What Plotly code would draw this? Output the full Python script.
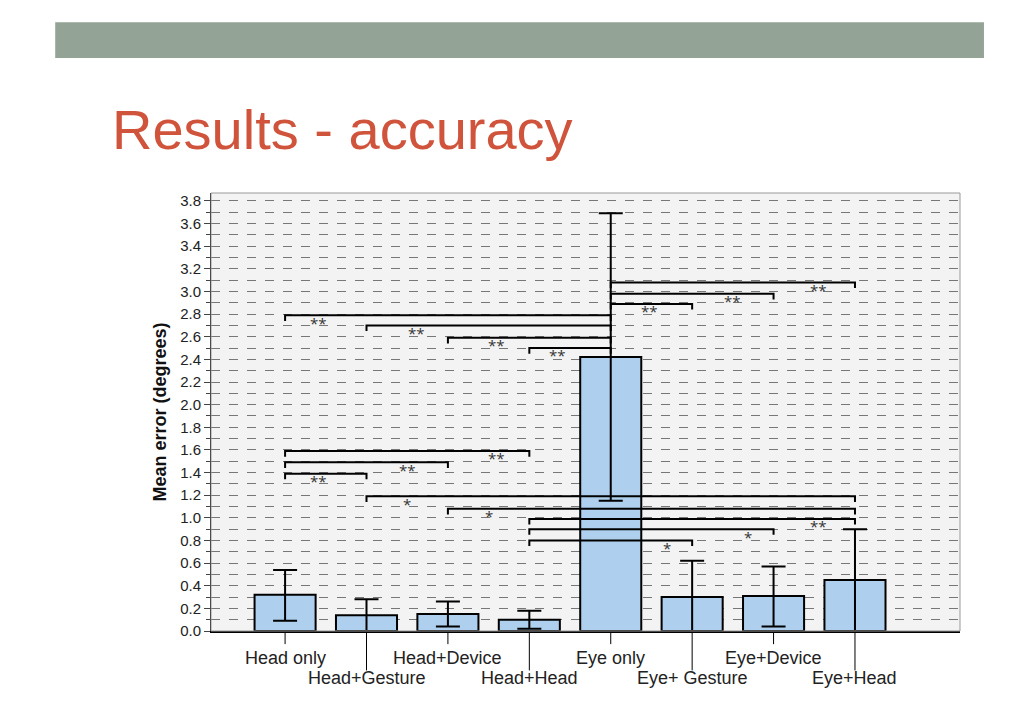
import plotly.graph_objects as go

categories = ["Head only", "Head+Gesture", "Head+Device", "Head+Head",
              "Eye only", "Eye+ Gesture", "Eye+Device", "Eye+Head"]
means = [0.32, 0.14, 0.15, 0.10, 2.42, 0.30, 0.31, 0.45]
err_up = [0.54, 0.28, 0.26, 0.18, 3.69, 0.62, 0.57, 0.90]
err_low = [0.09, 0.0, 0.04, 0.02, 1.15, 0.0, 0.04, 0.0]

# significance brackets: (from index, to index, height, stars, star x position)
brackets = [
    (4, 7, 3.08, "**", 6.55), (4, 6, 2.98, "**", 5.5), (4, 5, 2.89, "**", 4.47),
    (0, 4, 2.79, "**", 0.41), (1, 4, 2.70, "**", 1.61), (2, 4, 2.59, "**", 2.6),
    (3, 4, 2.50, "**", 3.34),
    (0, 3, 1.59, "**", 2.6), (0, 2, 1.49, "**", 1.5), (0, 1, 1.39, "**", 0.41),
    (1, 7, 1.19, "*", 1.5), (2, 7, 1.08, "*", 2.5), (3, 7, 0.99, "**", 6.55),
    (3, 6, 0.90, "*", 5.68), (3, 5, 0.80, "*", 4.69),
]

idx = list(range(len(categories)))
fig = go.Figure()
fig.add_trace(go.Bar(
    x=idx, y=means, width=0.75,
    marker=dict(color="#aed0ee", line=dict(color="black", width=2)),
    error_y=dict(type="data", symmetric=False,
                 array=[u - m for u, m in zip(err_up, means)],
                 arrayminus=[m - l for m, l in zip(means, err_low)],
                 color="black", thickness=2, width=12),
))

shapes = []
annots = []
for a, b, h, s, sx in brackets:
    shapes.append(dict(type="path", xref="x", yref="y",
                       path=f"M {a},{h-0.05} L {a},{h} L {b},{h} L {b},{h-0.05}",
                       line=dict(color="black", width=2)))
    annots.append(dict(x=sx, y=h - 0.065, text=s, showarrow=False, xref="x", yref="y",
                       font=dict(size=15, color="#333")))

# staggered x labels with leader lines
for i, c in enumerate(categories):
    low = i % 2 == 1
    shapes.append(dict(type="line", xref="x", yref="paper", x0=i, x1=i, y0=0,
                       y1=-0.09 if low else -0.03, line=dict(color="black", width=1)))
    annots.append(dict(x=i, y=-0.035 if not low else -0.08, xref="x", yref="paper",
                       text=c, showarrow=False, yanchor="top",
                       font=dict(size=18, color="#222", family="Liberation Sans")))

# slide decoration
shapes.append(dict(type="rect", xref="paper", yref="paper", x0=-0.208, x1=1.032,
                   y0=1.308, y1=1.390, fillcolor="#93a396", line=dict(width=0)))
annots.append(dict(x=-0.135, y=1.144, xref="paper", yref="paper", text="Results - accuracy",
                   showarrow=False, xanchor="left", yanchor="middle",
                   font=dict(size=56, color="#d0533c", family="Liberation Sans")))

fig.update_layout(
    width=1024, height=724, showlegend=False,
    margin=dict(l=203, r=72, t=185, b=101),
    paper_bgcolor="white", plot_bgcolor="#f3f3f3",
    shapes=shapes, annotations=annots,
    xaxis=dict(range=[-0.91, 8.29], showticklabels=False, showgrid=False,
               showline=True, linecolor="black", linewidth=2, zeroline=False),
    yaxis=dict(range=[0, 3.87], tickvals=[i / 5 for i in range(20)], tickformat=".1f",
               ticks="outside", ticklen=6, showline=True, linecolor="black",
               showgrid=True, gridcolor="#777", griddash="dash", gridwidth=1, zeroline=False,
               minor=dict(dtick=0.1, showgrid=True, gridcolor="#777", griddash="dash",
                          ticks="outside", ticklen=4),
               tickfont=dict(size=15, color="#222", family="Liberation Sans"),
               title=dict(text="<b>Mean error (degrees)</b>", standoff=8,
                          font=dict(size=18, color="#111", family="Liberation Sans"))),
)
fig.add_shape(type="rect", xref="paper", yref="paper", x0=0, x1=1, y0=0, y1=1,
              line=dict(color="#999", width=1))
fig.write_html("out.html")
